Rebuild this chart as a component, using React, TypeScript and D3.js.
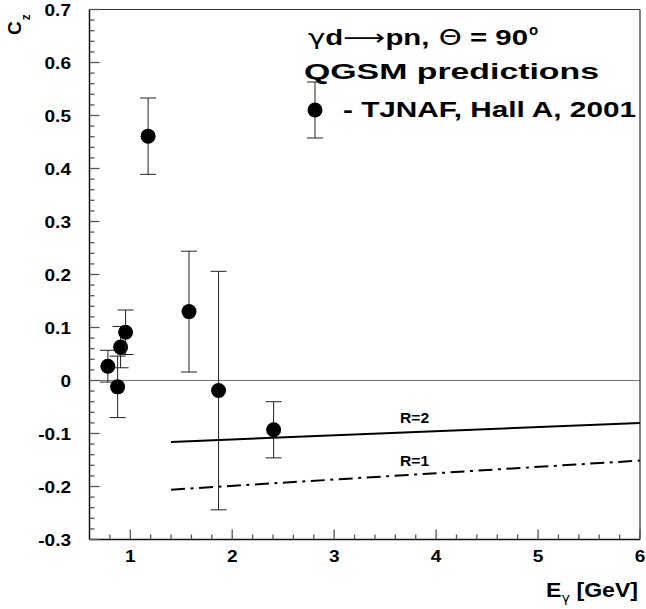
import React from 'react';
import * as d3 from 'd3';

// ---- data ----
const energy = [0.78, 0.876, 0.905, 0.954, 1.175, 1.576, 1.866, 2.406];
const cz = [0.027, -0.012, 0.063, 0.091, 0.461, 0.13, -0.019, -0.093];
const czErr = [0.03, 0.058, 0.039, 0.042, 0.072, 0.114, 0.225, 0.053];

const r2Energy = [1.4, 6.0];
const r2Cz = [-0.116, -0.08];
const r1Energy = [1.4, 6.0];
const r1Cz = [-0.206, -0.151];

const xTickValues = [1, 2, 3, 4, 5, 6];
const xTickLabels = ['1', '2', '3', '4', '5', '6'];
const yTickValues = [-0.3, -0.2, -0.1, 0, 0.1, 0.2, 0.3, 0.4, 0.5, 0.6, 0.7];
const yTickLabels = ['-0.3', '-0.2', '-0.1', '0', '0.1', '0.2', '0.3', '0.4', '0.5', '0.6', '0.7'];

const legendSubtitle = 'QGSM predictions';
const legendData = '- TJNAF, Hall A, 2001';
const curveLabels = ['R=2', 'R=1'];

const FONT = "'Liberation Sans', Arial, Helvetica, sans-serif";

const W = 646;
const H = 609;
const left = 89.5;
const right = 640;
const top = 9.5;
const bottom = 539.5;

function SText(props: any) {
  const { x, y, sx = 1, anchor = 'start', size, children, fill = '#000' } = props;
  return (
    <text
      transform={`translate(${x},${y}) scale(${sx},1)`}
      textAnchor={anchor}
      fontSize={size}
      fontWeight="bold"
      fontFamily={FONT}
      fill={fill}
    >
      {children}
    </text>
  );
}

function LText(props: any) {
  const { x, y, len, size, children } = props;
  return (
    <text
      x={x}
      y={y}
      textLength={len}
      lengthAdjust="spacingAndGlyphs"
      fontSize={size}
      fontWeight="bold"
      fontFamily={FONT}
      fill="#000"
    >
      {children}
    </text>
  );
}

export default function App() {
  const x = d3.scaleLinear().domain([0.6, 6]).range([left, right]);
  const y = d3.scaleLinear().domain([-0.3, 0.7]).range([bottom, top]);

  const xMinor = d3.range(0.8, 6.001, 0.2).filter((v) => Math.abs(v - Math.round(v)) > 1e-6);
  const yMinor = d3.range(-0.28, 0.7, 0.02).filter((v) => Math.abs(v * 10 - Math.round(v * 10)) > 1e-6);

  const line = d3
    .line<[number, number]>()
    .x((d) => x(d[0]))
    .y((d) => y(d[1]));

  const r2Pts = r2Energy.map((e, i) => [e, r2Cz[i]] as [number, number]);
  const r1Pts = r1Energy.map((e, i) => [e, r1Cz[i]] as [number, number]);

  const tickColor = '#555';
  const capHalf = 8;

  return (
    <svg
      width={W}
      height={H}
      style={{ position: 'absolute', left: 0, top: 0, background: '#fff' }}
    >
      <rect x={0} y={0} width={W} height={H} fill="#fff" />
      {/* zero line */}
      <line x1={left} x2={right} y1={y(0)} y2={y(0)} stroke="#777" strokeWidth={1} />

      {/* frame */}
      <line x1={left} x2={right} y1={top} y2={top} stroke="#333" strokeWidth={1.2} />
      <line x1={right} x2={right} y1={top} y2={bottom} stroke="#555" strokeWidth={1.5} />
      <line x1={left} x2={left} y1={top} y2={bottom} stroke="#111" strokeWidth={1.5} />
      <line x1={left} x2={right} y1={bottom} y2={bottom} stroke="#111" strokeWidth={1.5} />

      {/* y ticks */}
      {yTickValues.map((v) => (
        <line key={'ym' + v} x1={left} x2={left + 10} y1={y(v)} y2={y(v)} stroke={tickColor} strokeWidth={1.3} />
      ))}
      {yMinor.map((v) => (
        <line key={'yn' + v} x1={left} x2={left + 5} y1={y(v)} y2={y(v)} stroke={tickColor} strokeWidth={1.3} />
      ))}
      {/* x ticks */}
      {xTickValues.map((v) => (
        <line key={'xm' + v} x1={x(v)} x2={x(v)} y1={bottom} y2={bottom - 10} stroke={tickColor} strokeWidth={1.3} />
      ))}
      {xMinor.map((v) => (
        <line key={'xn' + v} x1={x(v)} x2={x(v)} y1={bottom} y2={bottom - 5} stroke={tickColor} strokeWidth={1.3} />
      ))}

      {/* tick labels */}
      {yTickValues.map((v, i) => (
        <SText key={'yl' + v} x={71} y={y(v) + 6.5} sx={1.12} anchor="end" size={17}>
          {yTickLabels[i]}
        </SText>
      ))}
      {xTickValues.map((v, i) => (
        <SText key={'xl' + v} x={x(v)} y={562} sx={1.12} anchor="middle" size={17}>
          {xTickLabels[i]}
        </SText>
      ))}

      {/* axis titles */}
      <text
        transform="translate(21,35) rotate(-90)"
        fontFamily={FONT}
        fontWeight="bold"
        fontSize={19}
      >
        C
        <tspan dy={9} dx={1} fontSize={12}>
          z
        </tspan>
      </text>
      <SText x={546} y={597} sx={1.1} size={21}>
        E
        <tspan dy={5} fontSize={13} fontWeight="normal" fontFamily="'DejaVu Sans', sans-serif">
          γ
        </tspan>
        <tspan dy={-5} dx={6}>
          [GeV]
        </tspan>
      </SText>

      {/* theory curves */}
      <path d={line(r2Pts) || ''} fill="none" stroke="#000" strokeWidth={2} />
      <path
        d={line(r1Pts) || ''}
        fill="none"
        stroke="#000"
        strokeWidth={2}
        strokeDasharray="14,5.5,3,5.5"
      />
      <SText x={400} y={423} sx={1.12} size={14}>
        {curveLabels[0]}
      </SText>
      <SText x={400} y={466} sx={1.12} size={14}>
        {curveLabels[1]}
      </SText>

      {/* data points */}
      {energy.map((e, i) => {
        const cx = x(e);
        const yt = y(cz[i] + czErr[i]);
        const yb = y(cz[i] - czErr[i]);
        return (
          <g key={'p' + i}>
            <line x1={cx} x2={cx} y1={yt} y2={yb} stroke="#222" strokeWidth={1} />
            <line x1={cx - capHalf} x2={cx + capHalf} y1={yt} y2={yt} stroke="#222" strokeWidth={1} />
            <line x1={cx - capHalf} x2={cx + capHalf} y1={yb} y2={yb} stroke="#222" strokeWidth={1} />
            <circle cx={cx} cy={y(cz[i])} r={7.5} fill="#000" />
          </g>
        );
      })}

      {/* legend */}
      <LText x={308} y={45} len={220} size={22}>
        <tspan fontWeight="normal" fontFamily="'DejaVu Sans', sans-serif">γ</tspan>
        d
        <tspan fontWeight="normal" fontFamily="'DejaVu Sans', sans-serif">⟶</tspan>
        pn,
        <tspan fontWeight="normal" fontFamily="'DejaVu Sans', sans-serif"> Θ</tspan>
        {' = 90'}
      </LText>
      <text x={529} y={35} fontSize={15} fontWeight="bold" fontFamily={FONT}>
        o
      </text>
      <LText x={304} y={79} len={295} size={22}>
        {legendSubtitle}
      </LText>
      <line x1={315} x2={315} y1={82} y2={138} stroke="#222" strokeWidth={1} />
      <line x1={307} x2={323} y1={82} y2={82} stroke="#222" strokeWidth={1} />
      <line x1={307} x2={323} y1={138} y2={138} stroke="#222" strokeWidth={1} />
      <circle cx={315} cy={110} r={7.5} fill="#000" />
      <LText x={343} y={117} len={293} size={22}>
        {legendData}
      </LText>
    </svg>
  );
}
